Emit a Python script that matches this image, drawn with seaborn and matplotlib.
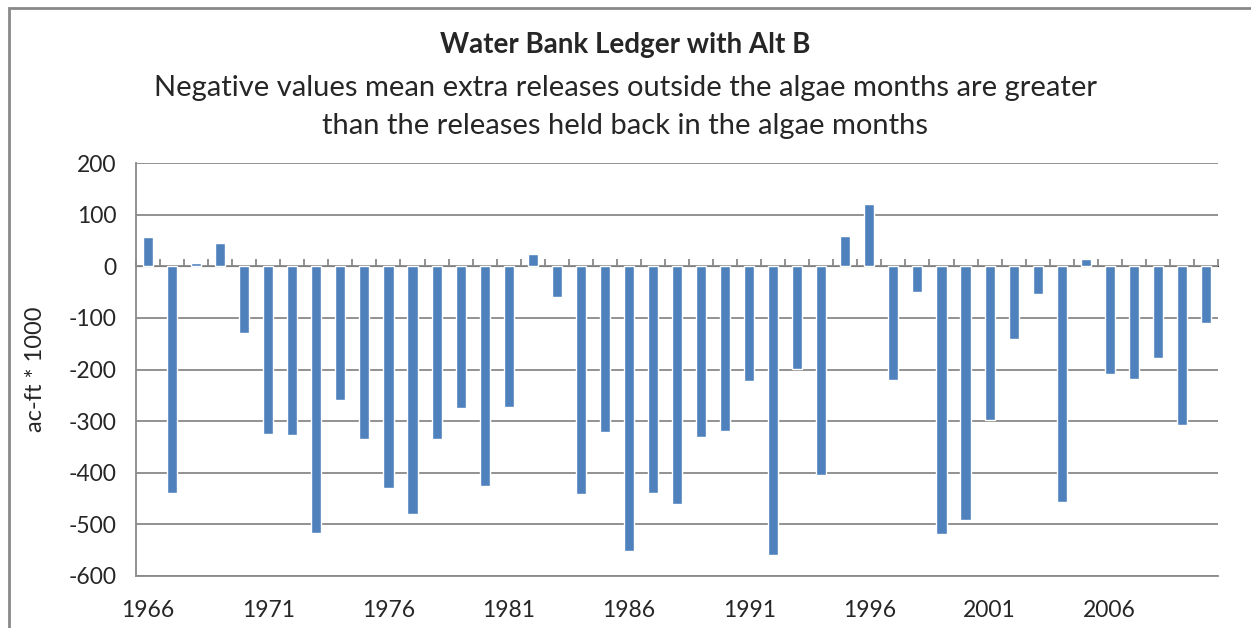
import numpy as np
import pandas as pd
import matplotlib
matplotlib.use("Agg")
import matplotlib.pyplot as plt
import seaborn as sns
from matplotlib.patches import Rectangle

years = list(range(1966, 2011))
ledger = [57, -439, 6, 46, -129, -324, -327, -517, -259, -335,
          -430, -479, -335, -274, -426, -273, 24, -60, -441, -322,
          -551, -439, -461, -330, -320, -222, -559, -199, -405, 58,
          121, -221, -50, -519, -491, -297, -141, -53, -456, 15,
          -208, -218, -178, -308, -110]
tick_years = [1966, 1971, 1976, 1981, 1986, 1991, 1996, 2001, 2006]
y_ticks = [200, 100, 0, -100, -200, -300, -400, -500, -600]

df = pd.DataFrame({"year": [str(y) for y in years], "value": ledger})

sns.set_style("white")
plt.rcParams["font.family"] = ["Lato", "DejaVu Sans"]

grey = "#898989"
fig = plt.figure(figsize=(12.51, 6.28), dpi=100)
ax = fig.add_axes([136 / 1251, 1 - 576 / 628, (1218 - 136) / 1251, (576 - 163) / 628])

sns.barplot(data=df, x="year", y="value", color="#4F81BD", width=0.42,
            saturation=1, ax=ax, zorder=3)

ax.set_xlim(-0.5, len(years) - 0.5)
ax.set_ylim(-600, 200)
ax.set_yticks(y_ticks)
ax.set_yticklabels([str(v) for v in y_ticks], fontsize=16.5)
ax.yaxis.grid(True, color=grey, linewidth=1.3, zorder=0)

pos = [years.index(y) for y in tick_years]
ax.set_xticks(pos)
ax.set_xticklabels([str(y) for y in tick_years], fontsize=16.5)
ax.tick_params(axis="x", length=0, pad=17)
ax.tick_params(axis="y", length=8, color=grey, width=1.3, direction="out", pad=6)
ax.set_xlabel("")
ax.set_ylabel("ac-ft * 1000", fontsize=17, labelpad=16)

for s in ["top", "right"]:
    ax.spines[s].set_visible(False)
ax.spines["left"].set_color(grey)
ax.spines["left"].set_linewidth(1.3)
ax.spines["bottom"].set_color(grey)
ax.spines["bottom"].set_linewidth(1.3)

# category axis crossing at zero with tick marks between the bars
sec = ax.secondary_xaxis(0.75)
sec.set_xticks(np.arange(-0.5, len(years), 1.0))
sec.set_xticklabels([])
sec.tick_params(length=5, color=grey, width=1.3, direction="out")
sec.spines["bottom"].set_color(grey)
sec.spines["bottom"].set_linewidth(1.6)

fig.text(0.5, 1 - 45 / 628, "Water Bank Ledger with Alt B", ha="center", va="center",
         fontsize=20, fontweight="bold")
fig.text(0.5, 1 - 88 / 628, "Negative values mean extra releases outside the algae months are greater",
         ha="center", va="center", fontsize=21)
fig.text(0.5, 1 - 126 / 628, "than the releases held back in the algae months",
         ha="center", va="center", fontsize=21)

fig.patches.append(Rectangle((9 / 1251, -0.05), 1.1, 1 - 8 / 628 + 0.05,
                             transform=fig.transFigure, fill=False,
                             edgecolor=grey, linewidth=2))

fig.savefig("out.png", dpi=100)
